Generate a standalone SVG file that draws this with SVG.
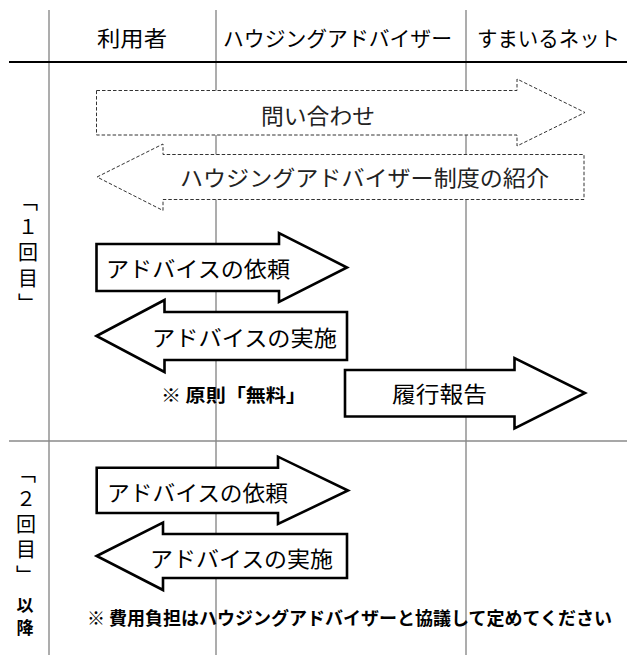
<svg xmlns="http://www.w3.org/2000/svg" width="627" height="655" viewBox="0 0 627 655">
<style>
text{font-family:"Noto Sans CJK JP","Noto Sans",sans-serif;fill:#000}
.h{font-size:21px}
.a{font-size:22px}
.d{font-size:22px;fill:#222}
.b{font-size:18px;font-weight:bold}
.v{font-size:20px;writing-mode:vertical-rl;letter-spacing:5.5px}
.vb{font-size:17px;font-weight:bold}
.grid{stroke:#8a8a8a;stroke-width:1.4;fill:none}
.solid{fill:#fff;stroke:#000;stroke-width:2.6;stroke-linejoin:miter}
.dash{fill:#fff;stroke:#333;stroke-width:1;stroke-dasharray:3.5 2}
</style>
<rect width="627" height="655" fill="#fff"/>
<g id="grid">
<line class="grid" x1="49" y1="10" x2="49" y2="655"/>
<line class="grid" x1="216" y1="10" x2="216" y2="655"/>
<line class="grid" x1="466" y1="10" x2="466" y2="655"/>
<line x1="9" y1="62" x2="627" y2="62" stroke="#000" stroke-width="2"/>
<line class="grid" x1="9" y1="441" x2="627" y2="441"/>
</g>
<g id="header">
<text class="h" x="97" y="46" textLength="70" lengthAdjust="spacingAndGlyphs">利用者</text>
<text class="h" x="223" y="46" textLength="229" lengthAdjust="spacingAndGlyphs">ハウジングアドバイザー</text>
<text class="h" x="477" y="46" textLength="143" lengthAdjust="spacingAndGlyphs">すまいるネット</text>
</g>
<g id="label1">
<text class="v" x="28" y="191.5">「１回目」</text>
</g>
<g id="label2">
<text class="v" x="26" y="463">「２回目」</text>
<text class="vb" x="25" y="611" text-anchor="middle">以</text>
<text class="vb" x="25" y="634" text-anchor="middle">降</text>
</g>
<g id="connectors">
<g id="inquiry">
<path class="dash" d="M96.5,90.5 H517 V79 L585,112.5 L517,146 V135 H96.5 Z"/>
<text class="d" x="261" y="124" textLength="114" lengthAdjust="spacingAndGlyphs">問い合わせ</text>
</g>
<g id="intro">
<path class="dash" d="M97,177 L163,144 V154.5 H584 V199.5 H163 V210.5 Z"/>
<text class="d" x="180" y="186" textLength="369" lengthAdjust="spacingAndGlyphs">ハウジングアドバイザー制度の紹介</text>
</g>
<g id="request1">
<path class="solid" d="M96.5,244 H279 V233 L347,267.5 L279,302 V291 H96.5 Z"/>
<text class="a" x="106" y="277" textLength="184" lengthAdjust="spacingAndGlyphs">アドバイスの依頼</text>
</g>
<g id="advice1">
<path class="solid" d="M96.5,336 L164.5,300 V312 H347 V360 H164.5 V372 Z"/>
<text class="a" x="152" y="346" textLength="185" lengthAdjust="spacingAndGlyphs">アドバイスの実施</text>
</g>
<g id="report">
<path class="solid" d="M345,370 H514.5 V358 L585,393 L514.5,428.5 V416.5 H345 Z"/>
<text class="a" x="392" y="402" textLength="95" lengthAdjust="spacingAndGlyphs">履行報告</text>
</g>
<g id="request2">
<path class="solid" d="M96.7,467.7 H278 V456.7 L348,490.5 L278,524 V513 H96.7 Z"/>
<text class="a" x="107" y="501" textLength="181" lengthAdjust="spacingAndGlyphs">アドバイスの依頼</text>
</g>
<g id="advice2">
<path class="solid" d="M96.7,556 L163,522.7 V534 H347 V578 H163 V590 Z"/>
<text class="a" x="150" y="567" textLength="183" lengthAdjust="spacingAndGlyphs">アドバイスの実施</text>
</g>
</g>
<g id="notes">
<text class="b" x="161" y="402" textLength="145" lengthAdjust="spacingAndGlyphs">※ 原則「無料」</text>
<text class="b" x="87" y="625" textLength="525" lengthAdjust="spacingAndGlyphs">※ 費用負担はハウジングアドバイザーと協議して定めてください</text>
</g>
</svg>
